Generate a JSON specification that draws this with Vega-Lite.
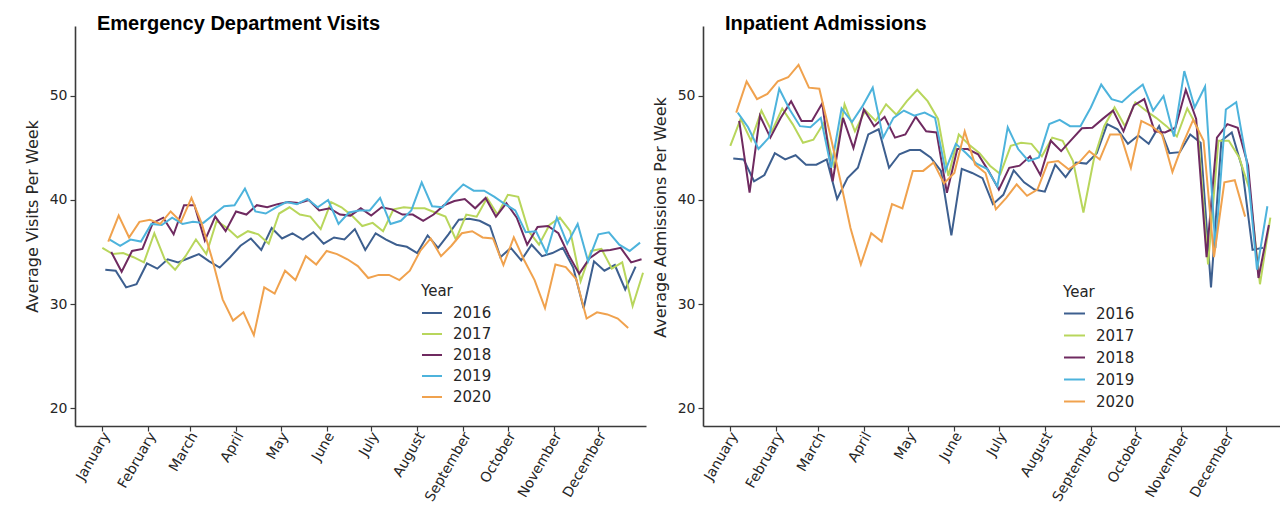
{
  "$schema": "https://vega.github.io/schema/vega-lite/v6.json",
  "background": "white",
  "padding": {"left": 24, "top": 14, "right": 0, "bottom": 0},
  "spacing": 6,
  "config": {
    "view": {"stroke": null},
    "font": "DejaVu Sans",
    "axis": {
      "grid": false,
      "domainColor": "#3a3a3a",
      "domainWidth": 1.6,
      "tickColor": "#3a3a3a",
      "tickSize": 5,
      "tickWidth": 1.2,
      "labelColor": "#262626",
      "labelFont": "DejaVu Sans",
      "labelFontSize": 14,
      "titleFont": "DejaVu Sans",
      "titleFontSize": 16,
      "titleFontWeight": "normal",
      "titleColor": "#262626"
    },
    "legend": {
      "orient": "none",
      "symbolType": "stroke",
      "symbolStrokeWidth": 2,
      "labelFont": "DejaVu Sans",
      "labelFontSize": 15,
      "labelColor": "#262626",
      "titleFont": "DejaVu Sans",
      "titleFontSize": 15,
      "titleFontWeight": "normal",
      "titleColor": "#262626",
      "padding": 0,
      "labelOffset": 10,
      "rowPadding": 2
    },
    "title": {
      "font": "Liberation Sans",
      "fontSize": 20,
      "fontWeight": "bold",
      "color": "#000000",
      "anchor": "start",
      "frame": "group",
      "dx": 22,
      "offset": -8
    }
  },
  "datasets": {
    "ed": [
      {"year":2016,"day":2,"value":33.3},{"year":2016,"day":9,"value":33.2},{"year":2016,"day":16,"value":31.6},{"year":2016,"day":23,"value":31.9},{"year":2016,"day":30,"value":33.9},{"year":2016,"day":37,"value":33.4},{"year":2016,"day":44,"value":34.3},{"year":2016,"day":51,"value":34.0},{"year":2016,"day":58,"value":34.4},{"year":2016,"day":65,"value":34.8},
      {"year":2016,"day":72,"value":34.1},{"year":2016,"day":79,"value":33.5},{"year":2016,"day":86,"value":34.5},{"year":2016,"day":93,"value":35.6},{"year":2016,"day":100,"value":36.3},{"year":2016,"day":107,"value":35.2},{"year":2016,"day":114,"value":37.3},{"year":2016,"day":121,"value":36.3},{"year":2016,"day":128,"value":36.8},{"year":2016,"day":135,"value":36.2},
      {"year":2016,"day":142,"value":36.9},{"year":2016,"day":149,"value":35.8},{"year":2016,"day":156,"value":36.4},{"year":2016,"day":163,"value":36.2},{"year":2016,"day":170,"value":37.2},{"year":2016,"day":177,"value":35.2},{"year":2016,"day":184,"value":36.8},{"year":2016,"day":191,"value":36.2},{"year":2016,"day":198,"value":35.7},{"year":2016,"day":205,"value":35.5},
      {"year":2016,"day":212,"value":34.9},{"year":2016,"day":219,"value":36.6},{"year":2016,"day":226,"value":35.4},{"year":2016,"day":233,"value":36.7},{"year":2016,"day":240,"value":38.1},{"year":2016,"day":247,"value":38.2},{"year":2016,"day":254,"value":38.0},{"year":2016,"day":261,"value":37.5},{"year":2016,"day":268,"value":34.5},{"year":2016,"day":275,"value":35.4},
      {"year":2016,"day":282,"value":34.2},{"year":2016,"day":289,"value":35.7},{"year":2016,"day":296,"value":34.6},{"year":2016,"day":303,"value":34.9},{"year":2016,"day":310,"value":35.4},{"year":2016,"day":317,"value":33.5},{"year":2016,"day":324,"value":29.6},{"year":2016,"day":331,"value":34.1},{"year":2016,"day":338,"value":33.2},{"year":2016,"day":345,"value":33.75},
      {"year":2016,"day":352,"value":31.4},{"year":2016,"day":359,"value":33.6},

      {"year":2017,"day":0,"value":35.4},{"year":2017,"day":7,"value":34.8},{"year":2017,"day":14,"value":34.9},{"year":2017,"day":21,"value":34.5},{"year":2017,"day":28,"value":34.0},{"year":2017,"day":35,"value":36.8},{"year":2017,"day":42,"value":34.3},{"year":2017,"day":49,"value":33.3},{"year":2017,"day":56,"value":34.6},{"year":2017,"day":63,"value":36.2},
      {"year":2017,"day":70,"value":34.8},{"year":2017,"day":77,"value":38.0},{"year":2017,"day":84,"value":37.3},{"year":2017,"day":91,"value":36.4},{"year":2017,"day":98,"value":37.0},{"year":2017,"day":105,"value":36.7},{"year":2017,"day":112,"value":35.8},{"year":2017,"day":119,"value":38.7},{"year":2017,"day":126,"value":39.3},{"year":2017,"day":133,"value":38.6},
      {"year":2017,"day":140,"value":38.4},{"year":2017,"day":147,"value":37.2},{"year":2017,"day":154,"value":39.8},{"year":2017,"day":161,"value":39.3},{"year":2017,"day":168,"value":38.5},{"year":2017,"day":175,"value":37.5},{"year":2017,"day":182,"value":37.8},{"year":2017,"day":189,"value":37.0},{"year":2017,"day":196,"value":39.1},{"year":2017,"day":203,"value":39.3},
      {"year":2017,"day":210,"value":39.2},{"year":2017,"day":217,"value":39.2},{"year":2017,"day":224,"value":38.8},{"year":2017,"day":231,"value":38.4},{"year":2017,"day":238,"value":36.2},{"year":2017,"day":245,"value":38.6},{"year":2017,"day":252,"value":38.4},{"year":2017,"day":259,"value":40.2},{"year":2017,"day":266,"value":38.6},{"year":2017,"day":273,"value":40.5},
      {"year":2017,"day":280,"value":40.3},{"year":2017,"day":287,"value":37.0},{"year":2017,"day":294,"value":35.7},{"year":2017,"day":301,"value":37.6},{"year":2017,"day":308,"value":38.3},{"year":2017,"day":315,"value":37.0},{"year":2017,"day":322,"value":32.2},{"year":2017,"day":329,"value":35.1},{"year":2017,"day":336,"value":35.3},{"year":2017,"day":343,"value":33.4},
      {"year":2017,"day":350,"value":34.0},{"year":2017,"day":357,"value":29.8},{"year":2017,"day":364,"value":33.0},

      {"year":2018,"day":6,"value":35.0},{"year":2018,"day":13,"value":33.1},{"year":2018,"day":20,"value":35.1},{"year":2018,"day":27,"value":35.3},{"year":2018,"day":34,"value":37.8},{"year":2018,"day":41,"value":38.3},{"year":2018,"day":48,"value":36.7},{"year":2018,"day":55,"value":39.5},{"year":2018,"day":62,"value":39.5},{"year":2018,"day":69,"value":36.1},
      {"year":2018,"day":76,"value":38.4},{"year":2018,"day":83,"value":37.0},{"year":2018,"day":90,"value":38.9},{"year":2018,"day":97,"value":38.6},{"year":2018,"day":104,"value":39.5},{"year":2018,"day":111,"value":39.3},{"year":2018,"day":118,"value":39.6},{"year":2018,"day":125,"value":39.8},{"year":2018,"day":132,"value":39.7},{"year":2018,"day":139,"value":40.0},
      {"year":2018,"day":146,"value":39.0},{"year":2018,"day":153,"value":39.2},{"year":2018,"day":160,"value":38.6},{"year":2018,"day":167,"value":38.5},{"year":2018,"day":174,"value":39.2},{"year":2018,"day":181,"value":38.5},{"year":2018,"day":188,"value":39.3},{"year":2018,"day":195,"value":39.1},{"year":2018,"day":202,"value":38.6},{"year":2018,"day":209,"value":38.6},
      {"year":2018,"day":216,"value":38.0},{"year":2018,"day":223,"value":38.6},{"year":2018,"day":230,"value":39.5},{"year":2018,"day":237,"value":39.9},{"year":2018,"day":244,"value":40.1},{"year":2018,"day":251,"value":39.2},{"year":2018,"day":258,"value":40.2},{"year":2018,"day":265,"value":38.4},{"year":2018,"day":272,"value":39.7},{"year":2018,"day":279,"value":38.3},
      {"year":2018,"day":286,"value":35.7},{"year":2018,"day":293,"value":37.4},{"year":2018,"day":300,"value":37.5},{"year":2018,"day":307,"value":36.8},{"year":2018,"day":314,"value":34.7},{"year":2018,"day":321,"value":32.9},{"year":2018,"day":328,"value":34.4},{"year":2018,"day":335,"value":35.1},{"year":2018,"day":342,"value":35.2},{"year":2018,"day":349,"value":35.4},
      {"year":2018,"day":356,"value":34.0},{"year":2018,"day":363,"value":34.3},

      {"year":2019,"day":5,"value":36.2},{"year":2019,"day":12,"value":35.6},{"year":2019,"day":19,"value":36.2},{"year":2019,"day":26,"value":36.0},{"year":2019,"day":33,"value":37.7},{"year":2019,"day":40,"value":37.6},{"year":2019,"day":47,"value":38.3},{"year":2019,"day":54,"value":37.7},{"year":2019,"day":61,"value":37.9},{"year":2019,"day":68,"value":37.8},
      {"year":2019,"day":75,"value":38.6},{"year":2019,"day":82,"value":39.4},{"year":2019,"day":89,"value":39.5},{"year":2019,"day":96,"value":41.1},{"year":2019,"day":103,"value":38.9},{"year":2019,"day":110,"value":38.7},{"year":2019,"day":117,"value":39.3},{"year":2019,"day":124,"value":39.8},{"year":2019,"day":131,"value":39.6},{"year":2019,"day":138,"value":40.1},
      {"year":2019,"day":145,"value":39.3},{"year":2019,"day":152,"value":40.0},{"year":2019,"day":159,"value":37.7},{"year":2019,"day":166,"value":38.8},{"year":2019,"day":173,"value":39.0},{"year":2019,"day":180,"value":39.0},{"year":2019,"day":187,"value":40.2},{"year":2019,"day":194,"value":37.7},{"year":2019,"day":201,"value":38.0},{"year":2019,"day":208,"value":39.0},
      {"year":2019,"day":215,"value":41.7},{"year":2019,"day":222,"value":39.4},{"year":2019,"day":229,"value":39.3},{"year":2019,"day":236,"value":40.5},{"year":2019,"day":243,"value":41.5},{"year":2019,"day":250,"value":40.9},{"year":2019,"day":257,"value":40.9},{"year":2019,"day":264,"value":40.3},{"year":2019,"day":271,"value":39.6},{"year":2019,"day":278,"value":39.0},
      {"year":2019,"day":285,"value":36.9},{"year":2019,"day":292,"value":37.0},{"year":2019,"day":299,"value":34.9},{"year":2019,"day":306,"value":38.3},{"year":2019,"day":313,"value":35.8},{"year":2019,"day":320,"value":37.7},{"year":2019,"day":327,"value":34.1},{"year":2019,"day":334,"value":36.7},{"year":2019,"day":341,"value":36.9},{"year":2019,"day":348,"value":35.7},
      {"year":2019,"day":355,"value":35.1},{"year":2019,"day":362,"value":35.9},

      {"year":2020,"day":4,"value":36.0},{"year":2020,"day":11,"value":38.5},{"year":2020,"day":18,"value":36.4},{"year":2020,"day":25,"value":37.9},{"year":2020,"day":32,"value":38.1},{"year":2020,"day":39,"value":37.7},{"year":2020,"day":46,"value":38.9},{"year":2020,"day":53,"value":37.9},{"year":2020,"day":60,"value":40.2},{"year":2020,"day":67,"value":37.7},
      {"year":2020,"day":74,"value":34.3},{"year":2020,"day":81,"value":30.45},{"year":2020,"day":88,"value":28.4},{"year":2020,"day":95,"value":29.2},{"year":2020,"day":102,"value":27.0},{"year":2020,"day":109,"value":31.6},{"year":2020,"day":116,"value":31.0},{"year":2020,"day":123,"value":33.2},{"year":2020,"day":130,"value":32.3},{"year":2020,"day":137,"value":34.6},
      {"year":2020,"day":144,"value":33.8},{"year":2020,"day":151,"value":35.1},{"year":2020,"day":158,"value":34.8},{"year":2020,"day":165,"value":34.3},{"year":2020,"day":172,"value":33.65},{"year":2020,"day":179,"value":32.5},{"year":2020,"day":186,"value":32.8},{"year":2020,"day":193,"value":32.8},{"year":2020,"day":200,"value":32.3},{"year":2020,"day":207,"value":33.2},
      {"year":2020,"day":214,"value":35.1},{"year":2020,"day":221,"value":36.3},{"year":2020,"day":228,"value":34.6},{"year":2020,"day":235,"value":35.6},{"year":2020,"day":242,"value":36.8},{"year":2020,"day":249,"value":37.0},{"year":2020,"day":256,"value":36.4},{"year":2020,"day":263,"value":36.3},{"year":2020,"day":270,"value":33.75},{"year":2020,"day":277,"value":36.4},
      {"year":2020,"day":284,"value":34.2},{"year":2020,"day":291,"value":32.3},{"year":2020,"day":298,"value":29.6},{"year":2020,"day":305,"value":33.8},{"year":2020,"day":312,"value":33.55},{"year":2020,"day":319,"value":32.4},{"year":2020,"day":326,"value":28.6},{"year":2020,"day":333,"value":29.2},{"year":2020,"day":340,"value":29.0},{"year":2020,"day":347,"value":28.6},
      {"year":2020,"day":354,"value":27.7}
    ],
    "ip": [
      {"year":2016,"day":2,"value":44.0},{"year":2016,"day":9,"value":43.9},{"year":2016,"day":16,"value":41.8},{"year":2016,"day":23,"value":42.4},{"year":2016,"day":30,"value":44.5},{"year":2016,"day":37,"value":43.9},{"year":2016,"day":44,"value":44.3},{"year":2016,"day":51,"value":43.4},{"year":2016,"day":58,"value":43.4},{"year":2016,"day":65,"value":43.9},
      {"year":2016,"day":72,"value":40.1},{"year":2016,"day":79,"value":42.1},{"year":2016,"day":86,"value":43.1},{"year":2016,"day":93,"value":46.3},{"year":2016,"day":100,"value":46.8},{"year":2016,"day":107,"value":43.1},{"year":2016,"day":114,"value":44.4},{"year":2016,"day":121,"value":44.8},{"year":2016,"day":128,"value":44.8},{"year":2016,"day":135,"value":44.1},
      {"year":2016,"day":142,"value":42.8},{"year":2016,"day":149,"value":36.6},{"year":2016,"day":156,"value":43.0},{"year":2016,"day":163,"value":42.6},{"year":2016,"day":170,"value":42.1},{"year":2016,"day":177,"value":39.6},{"year":2016,"day":184,"value":40.5},{"year":2016,"day":191,"value":42.85},{"year":2016,"day":198,"value":41.7},{"year":2016,"day":205,"value":41.0},
      {"year":2016,"day":212,"value":40.8},{"year":2016,"day":219,"value":43.4},{"year":2016,"day":226,"value":42.2},{"year":2016,"day":233,"value":43.6},{"year":2016,"day":240,"value":43.5},{"year":2016,"day":247,"value":44.5},{"year":2016,"day":254,"value":47.3},{"year":2016,"day":261,"value":46.8},{"year":2016,"day":268,"value":45.4},{"year":2016,"day":275,"value":46.2},
      {"year":2016,"day":282,"value":45.4},{"year":2016,"day":289,"value":47.1},{"year":2016,"day":296,"value":44.5},{"year":2016,"day":303,"value":44.6},{"year":2016,"day":310,"value":46.3},{"year":2016,"day":317,"value":45.5},{"year":2016,"day":324,"value":31.6},{"year":2016,"day":331,"value":45.7},{"year":2016,"day":338,"value":46.5},{"year":2016,"day":345,"value":43.1},
      {"year":2016,"day":352,"value":35.2},{"year":2016,"day":359,"value":35.4},

      {"year":2017,"day":0,"value":45.2},{"year":2017,"day":7,"value":47.8},{"year":2017,"day":14,"value":45.7},{"year":2017,"day":21,"value":48.6},{"year":2017,"day":28,"value":46.6},{"year":2017,"day":35,"value":48.8},{"year":2017,"day":42,"value":47.3},{"year":2017,"day":49,"value":45.5},{"year":2017,"day":56,"value":45.8},{"year":2017,"day":63,"value":47.4},
      {"year":2017,"day":70,"value":43.1},{"year":2017,"day":77,"value":49.2},{"year":2017,"day":84,"value":46.6},{"year":2017,"day":91,"value":48.6},{"year":2017,"day":98,"value":47.6},{"year":2017,"day":105,"value":49.2},{"year":2017,"day":112,"value":48.2},{"year":2017,"day":119,"value":49.5},{"year":2017,"day":126,"value":50.6},{"year":2017,"day":133,"value":49.5},
      {"year":2017,"day":140,"value":47.8},{"year":2017,"day":147,"value":42.3},{"year":2017,"day":154,"value":46.3},{"year":2017,"day":161,"value":45.3},{"year":2017,"day":168,"value":44.5},{"year":2017,"day":175,"value":43.3},{"year":2017,"day":182,"value":42.5},{"year":2017,"day":189,"value":45.2},{"year":2017,"day":196,"value":45.5},{"year":2017,"day":203,"value":45.4},
      {"year":2017,"day":210,"value":44.2},{"year":2017,"day":217,"value":46.0},{"year":2017,"day":224,"value":45.7},{"year":2017,"day":231,"value":43.75},{"year":2017,"day":238,"value":38.8},{"year":2017,"day":245,"value":43.9},{"year":2017,"day":252,"value":47.1},{"year":2017,"day":259,"value":48.9},{"year":2017,"day":266,"value":47.1},{"year":2017,"day":273,"value":49.4},
      {"year":2017,"day":280,"value":48.6},{"year":2017,"day":287,"value":47.9},{"year":2017,"day":294,"value":47.1},{"year":2017,"day":301,"value":46.1},{"year":2017,"day":308,"value":48.8},{"year":2017,"day":315,"value":46.95},{"year":2017,"day":322,"value":33.8},{"year":2017,"day":329,"value":45.7},{"year":2017,"day":336,"value":45.7},{"year":2017,"day":343,"value":44.1},
      {"year":2017,"day":350,"value":41.0},{"year":2017,"day":357,"value":31.9},{"year":2017,"day":364,"value":38.3},

      {"year":2018,"day":6,"value":47.6},{"year":2018,"day":13,"value":40.7},{"year":2018,"day":20,"value":48.1},{"year":2018,"day":27,"value":46.0},{"year":2018,"day":34,"value":47.9},{"year":2018,"day":41,"value":49.5},{"year":2018,"day":48,"value":47.6},{"year":2018,"day":55,"value":47.6},{"year":2018,"day":62,"value":49.3},{"year":2018,"day":69,"value":41.8},
      {"year":2018,"day":76,"value":47.9},{"year":2018,"day":83,"value":45.0},{"year":2018,"day":90,"value":48.7},{"year":2018,"day":97,"value":47.1},{"year":2018,"day":104,"value":48.0},{"year":2018,"day":111,"value":46.0},{"year":2018,"day":118,"value":46.3},{"year":2018,"day":125,"value":48.0},{"year":2018,"day":132,"value":46.6},{"year":2018,"day":139,"value":46.5},
      {"year":2018,"day":146,"value":40.7},{"year":2018,"day":153,"value":44.9},{"year":2018,"day":160,"value":44.9},{"year":2018,"day":167,"value":44.4},{"year":2018,"day":174,"value":42.8},{"year":2018,"day":181,"value":41.0},{"year":2018,"day":188,"value":43.1},{"year":2018,"day":195,"value":43.3},{"year":2018,"day":202,"value":44.2},{"year":2018,"day":209,"value":42.4},
      {"year":2018,"day":216,"value":45.7},{"year":2018,"day":223,"value":44.7},{"year":2018,"day":230,"value":45.8},{"year":2018,"day":237,"value":46.9},{"year":2018,"day":244,"value":46.95},{"year":2018,"day":251,"value":47.8},{"year":2018,"day":258,"value":48.6},{"year":2018,"day":265,"value":46.6},{"year":2018,"day":272,"value":49.1},{"year":2018,"day":279,"value":49.7},
      {"year":2018,"day":286,"value":46.6},{"year":2018,"day":293,"value":46.5},{"year":2018,"day":300,"value":46.95},{"year":2018,"day":307,"value":50.6},{"year":2018,"day":314,"value":47.8},{"year":2018,"day":321,"value":34.5},{"year":2018,"day":328,"value":46.0},{"year":2018,"day":335,"value":47.3},{"year":2018,"day":342,"value":46.95},{"year":2018,"day":349,"value":43.3},
      {"year":2018,"day":356,"value":32.5},{"year":2018,"day":363,"value":37.6},

      {"year":2019,"day":5,"value":48.4},{"year":2019,"day":12,"value":47.0},{"year":2019,"day":19,"value":44.9},{"year":2019,"day":26,"value":46.0},{"year":2019,"day":33,"value":50.7},{"year":2019,"day":40,"value":48.7},{"year":2019,"day":47,"value":47.1},{"year":2019,"day":54,"value":47.0},{"year":2019,"day":61,"value":47.9},{"year":2019,"day":68,"value":43.1},
      {"year":2019,"day":75,"value":48.8},{"year":2019,"day":82,"value":47.5},{"year":2019,"day":89,"value":49.0},{"year":2019,"day":96,"value":50.8},{"year":2019,"day":103,"value":46.0},{"year":2019,"day":110,"value":47.9},{"year":2019,"day":117,"value":48.6},{"year":2019,"day":124,"value":48.1},{"year":2019,"day":131,"value":48.4},{"year":2019,"day":138,"value":47.9},
      {"year":2019,"day":145,"value":42.85},{"year":2019,"day":152,"value":45.4},{"year":2019,"day":159,"value":44.5},{"year":2019,"day":166,"value":43.5},{"year":2019,"day":173,"value":43.0},{"year":2019,"day":180,"value":41.3},{"year":2019,"day":187,"value":47.0},{"year":2019,"day":194,"value":44.9},{"year":2019,"day":201,"value":43.75},{"year":2019,"day":208,"value":44.1},
      {"year":2019,"day":215,"value":47.3},{"year":2019,"day":222,"value":47.7},{"year":2019,"day":229,"value":47.1},{"year":2019,"day":236,"value":47.1},{"year":2019,"day":243,"value":48.9},{"year":2019,"day":250,"value":51.1},{"year":2019,"day":257,"value":49.7},{"year":2019,"day":264,"value":49.4},{"year":2019,"day":271,"value":50.3},{"year":2019,"day":278,"value":51.1},
      {"year":2019,"day":285,"value":48.6},{"year":2019,"day":292,"value":50.0},{"year":2019,"day":299,"value":46.1},{"year":2019,"day":306,"value":52.4},{"year":2019,"day":313,"value":48.9},{"year":2019,"day":320,"value":50.9},{"year":2019,"day":327,"value":35.4},{"year":2019,"day":334,"value":48.7},{"year":2019,"day":341,"value":49.4},{"year":2019,"day":348,"value":43.75},
      {"year":2019,"day":355,"value":33.3},{"year":2019,"day":362,"value":39.4},

      {"year":2020,"day":4,"value":48.4},{"year":2020,"day":11,"value":51.4},{"year":2020,"day":18,"value":49.7},{"year":2020,"day":25,"value":50.2},{"year":2020,"day":32,"value":51.4},{"year":2020,"day":39,"value":51.8},{"year":2020,"day":46,"value":53.0},{"year":2020,"day":53,"value":50.8},{"year":2020,"day":60,"value":50.7},{"year":2020,"day":67,"value":46.5},
      {"year":2020,"day":74,"value":42.0},{"year":2020,"day":81,"value":37.3},{"year":2020,"day":88,"value":33.8},{"year":2020,"day":95,"value":36.8},{"year":2020,"day":102,"value":36.0},{"year":2020,"day":109,"value":39.6},{"year":2020,"day":116,"value":39.2},{"year":2020,"day":123,"value":42.8},{"year":2020,"day":130,"value":42.8},{"year":2020,"day":137,"value":43.6},
      {"year":2020,"day":144,"value":41.6},{"year":2020,"day":151,"value":42.6},{"year":2020,"day":158,"value":46.6},{"year":2020,"day":165,"value":43.4},{"year":2020,"day":172,"value":42.6},{"year":2020,"day":179,"value":39.1},{"year":2020,"day":186,"value":40.2},{"year":2020,"day":193,"value":41.5},{"year":2020,"day":200,"value":40.4},{"year":2020,"day":207,"value":41.0},
      {"year":2020,"day":214,"value":43.6},{"year":2020,"day":221,"value":43.75},{"year":2020,"day":228,"value":42.95},{"year":2020,"day":235,"value":43.6},{"year":2020,"day":242,"value":44.7},{"year":2020,"day":249,"value":43.9},{"year":2020,"day":256,"value":46.3},{"year":2020,"day":263,"value":46.3},{"year":2020,"day":270,"value":43.1},{"year":2020,"day":277,"value":47.6},
      {"year":2020,"day":284,"value":47.1},{"year":2020,"day":291,"value":46.3},{"year":2020,"day":298,"value":42.7},{"year":2020,"day":305,"value":45.4},{"year":2020,"day":312,"value":47.7},{"year":2020,"day":319,"value":45.7},{"year":2020,"day":326,"value":34.5},{"year":2020,"day":333,"value":41.7},{"year":2020,"day":340,"value":41.9},{"year":2020,"day":347,"value":38.4}
    ]
  },
  "hconcat": [
    {
      "title": {"text": "Emergency Department Visits"},
      "data": {"name": "ed"},
      "width": 571,
      "height": 400,
      "mark": {"type": "line", "strokeWidth": 2, "clip": true},
      "encoding": {
        "x": {
          "field": "day",
          "type": "quantitative",
          "scale": {"domain": [-18.4, 366], "nice": false, "zero": false},
          "axis": {
            "title": null,
            "values": [0, 31, 59, 90, 120, 151, 181, 212, 243, 273, 304, 334],
            "labelExpr": "['January','February','March','April','May','June','July','August','September','October','November','December'][indexof([0,31,59,90,120,151,181,212,243,273,304,334], datum.value)]",
            "labelAngle": -60,
            "labelAlign": "right",
            "labelBaseline": "middle",
            "labelPadding": 2,
            "labelOffset": 4,
            "labelOverlap": false,
            "labelFontSize": 14
          }
        },
        "y": {
          "field": "value",
          "type": "quantitative",
          "scale": {"domain": [18.27, 56.73], "nice": false, "zero": false},
          "axis": {"title": "Average Visits Per Week", "values": [20, 30, 40, 50], "labelPadding": 3, "titlePadding": 9, "titleY": 190}
        },
        "color": {
          "field": "year",
          "type": "nominal",
          "scale": {"domain": [2016, 2017, 2018, 2019, 2020], "range": ["#3d5f8f", "#b8d65c", "#6f2a60", "#4db3dc", "#f0a24e"]},
          "legend": {"title": "Year", "legendX": 346, "legendY": 258, "symbolSize": 400, "titlePadding": 3}
        }
      }
    },
    {
      "title": {"text": "Inpatient Admissions"},
      "data": {"name": "ip"},
      "width": 577,
      "height": 400,
      "mark": {"type": "line", "strokeWidth": 2, "clip": true},
      "encoding": {
        "x": {
          "field": "day",
          "type": "quantitative",
          "scale": {"domain": [-18.4, 370.5], "nice": false, "zero": false},
          "axis": {
            "title": null,
            "values": [0, 31, 59, 90, 120, 151, 181, 212, 243, 273, 304, 334],
            "labelExpr": "['January','February','March','April','May','June','July','August','September','October','November','December'][indexof([0,31,59,90,120,151,181,212,243,273,304,334], datum.value)]",
            "labelAngle": -60,
            "labelAlign": "right",
            "labelBaseline": "middle",
            "labelPadding": 2,
            "labelOffset": 4,
            "labelOverlap": false,
            "labelFontSize": 14
          }
        },
        "y": {
          "field": "value",
          "type": "quantitative",
          "scale": {"domain": [18.27, 56.73], "nice": false, "zero": false},
          "axis": {"title": "Average Admissions Per Week", "values": [20, 30, 40, 50], "labelPadding": 3, "titlePadding": 9, "titleY": 191}
        },
        "color": {
          "field": "year",
          "type": "nominal",
          "scale": {"domain": [2016, 2017, 2018, 2019, 2020], "range": ["#3d5f8f", "#b8d65c", "#6f2a60", "#4db3dc", "#f0a24e"]},
          "legend": {"title": "Year", "legendX": 360, "legendY": 259, "symbolSize": 441, "titlePadding": 2}
        }
      }
    }
  ],
  "resolve": {"scale": {"color": "shared"}, "legend": {"color": "independent"}}
}
